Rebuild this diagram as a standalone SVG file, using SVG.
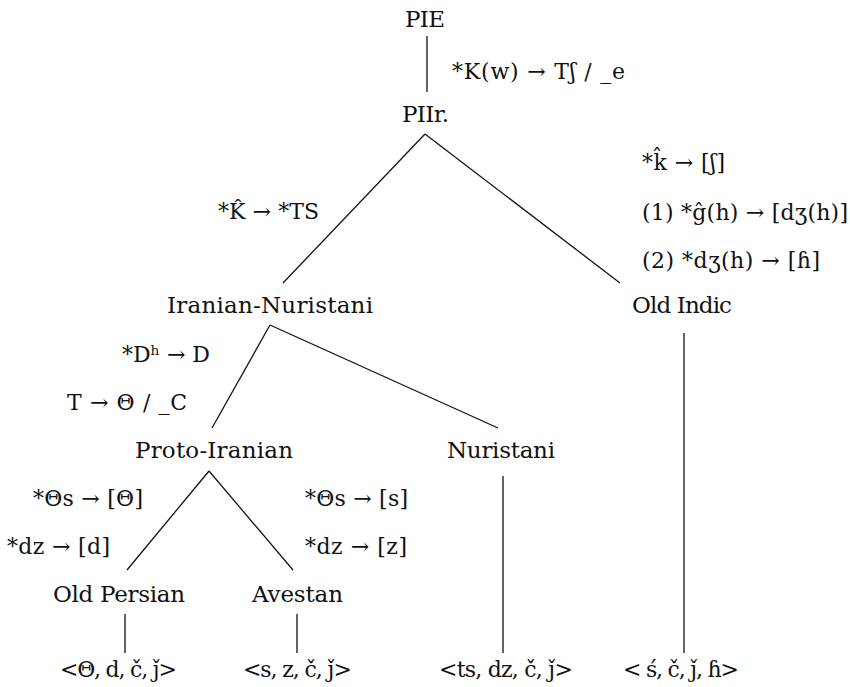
<svg xmlns="http://www.w3.org/2000/svg" width="850" height="687" viewBox="0 0 850 687">
<style>
text{font-family:"DejaVu Serif","Liberation Serif",serif;font-size:22px;fill:#111}
.n{text-anchor:middle;font-size:23px}
.o{text-anchor:middle}
.c line{stroke:#111;stroke-width:1.3}
</style>
<rect width="850" height="687" fill="#fff"/>
<g class="c" id="connectors">
<line x1="427" y1="36" x2="427" y2="92"/>
<line x1="425" y1="134" x2="283" y2="283"/>
<line x1="425" y1="134" x2="620" y2="283"/>
<line x1="270" y1="325" x2="212" y2="428"/>
<line x1="270" y1="325" x2="498" y2="428"/>
<line x1="684" y1="333" x2="684" y2="653"/>
<line x1="503" y1="476" x2="503" y2="653"/>
<line x1="209" y1="471" x2="127" y2="570"/>
<line x1="209" y1="471" x2="293" y2="570"/>
<line x1="125" y1="614" x2="125" y2="653"/>
<line x1="297" y1="614" x2="297" y2="653"/>
</g>
<g id="PIE"><text class="n" x="425" y="27" textLength="40">PIE</text></g>
<g id="PIIr"><text class="n" x="425.5" y="122" textLength="47">PIIr.</text></g>
<g id="IranianNuristani"><text class="n" x="270" y="313" textLength="206">Iranian-Nuristani</text></g>
<g id="OldIndic"><text class="n" x="682" y="313" textLength="100">Old Indic</text></g>
<g id="ProtoIranian"><text class="n" x="214" y="458" textLength="158">Proto-Iranian</text></g>
<g id="Nuristani"><text class="n" x="501" y="458" textLength="108">Nuristani</text></g>
<g id="OldPersian"><text class="n" x="119" y="602" textLength="132">Old Persian</text></g>
<g id="Avestan"><text class="n" x="297.5" y="602" textLength="91">Avestan</text></g>
<g id="OPout"><text class="o" x="118.5" y="677" textLength="117">&lt;Θ, d, č, ǰ&gt;</text></g>
<g id="Avout"><text class="o" x="297.5" y="677" textLength="109">&lt;s, z, č, ǰ&gt;</text></g>
<g id="Nuout"><text class="o" x="506" y="677" textLength="134">&lt;ts, dz, č, ǰ&gt;</text></g>
<g id="OIout"><text class="o" x="681" y="677" textLength="116">&lt; ś, č, ǰ, ɦ&gt;</text></g>
<g id="labels">
<text x="452" y="79" textLength="173">*K(w) → Tʃ / _e</text>
<text x="218" y="219" textLength="101">*K̂ → *TS</text>
<text x="642" y="170" textLength="83">*k̂ → [ʃ]</text>
<text x="642" y="220" textLength="206">(1) *ĝ(h) → [dʒ(h)]</text>
<text x="642" y="268" textLength="178">(2) *dʒ(h) → [ɦ]</text>
<text x="122" y="362" textLength="88">*Dʰ → D</text>
<text x="67" y="410" textLength="120">T → Θ / _C</text>
<text x="33" y="506" textLength="110">*Θs → [Θ]</text>
<text x="7" y="554" textLength="103">*dz → [d]</text>
<text x="305" y="506" textLength="103">*Θs → [s]</text>
<text x="305" y="554" textLength="102">*dz → [z]</text>
</g>
</svg>
